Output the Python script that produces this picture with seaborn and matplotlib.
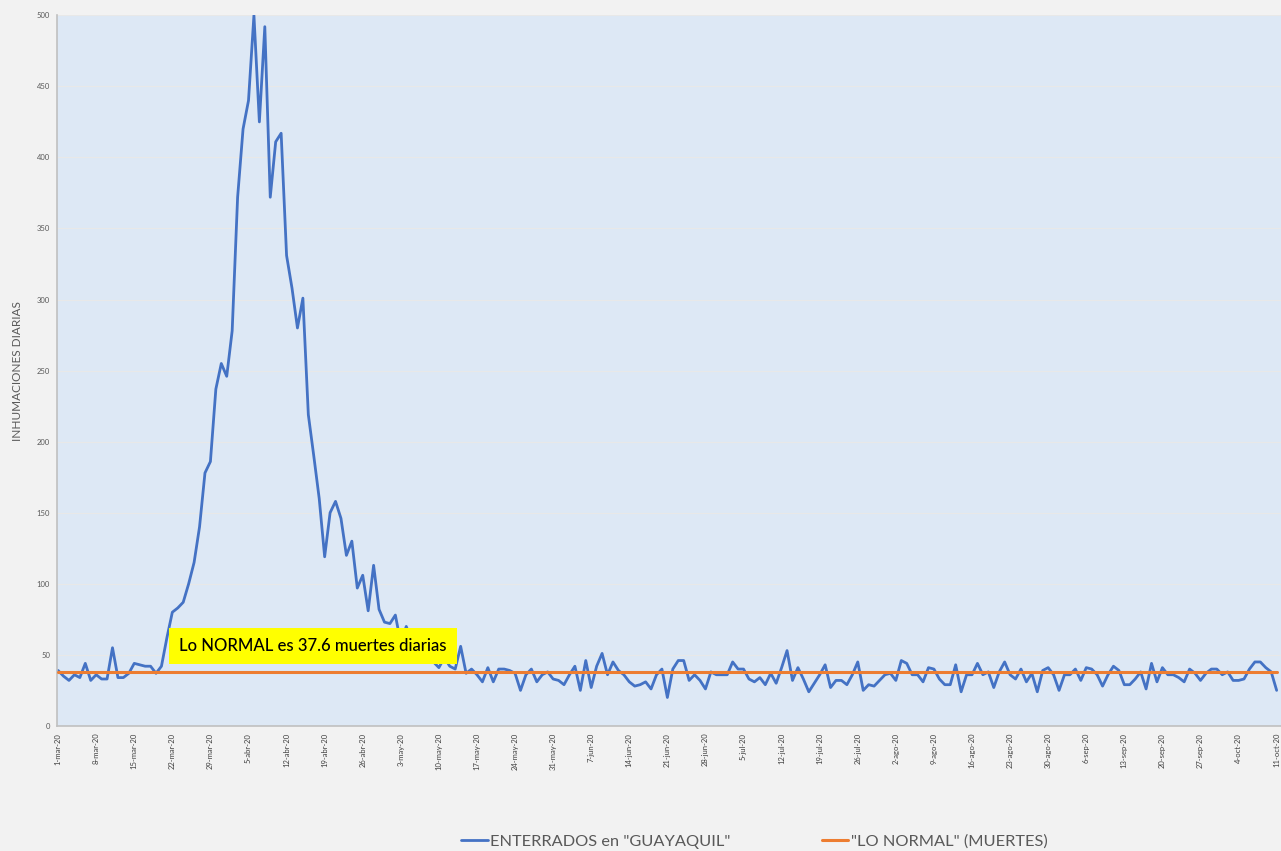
import matplotlib
matplotlib.use("Agg")
import matplotlib.pyplot as plt
import seaborn as sns
import pandas as pd
import numpy as np

# ---- data ----
start_date = "2020-03-01"
enterrados = [
    39, 35, 32, 36, 34, 44, 32, 36, 33, 33,
    55, 34, 34, 37, 44, 43, 42, 42, 37, 42,
    62, 80, 83, 87, 100, 115, 140, 178, 186, 237,
    255, 246, 278, 372, 420, 440, 500, 425, 492, 372,
    411, 417, 331, 308, 280, 301, 219, 190, 160, 119,
    150, 158, 146, 120, 130, 97, 106, 81, 113, 82,
    73, 72, 78, 58, 70, 60, 55, 52, 48, 45,
    41, 48, 42, 40, 56, 37, 40, 36, 31, 41,
    31, 40, 40, 39, 37, 25, 36, 40, 31, 36,
    38, 33, 32, 29, 36, 42, 25, 46, 27, 42,
    51, 36, 45, 39, 36, 31, 28, 29, 31, 26,
    36, 40, 20, 40, 46, 46, 32, 36, 32, 26,
    38, 36, 36, 36, 45, 40, 40, 33, 31, 34,
    29, 37, 30, 41, 53, 32, 41, 33, 24, 30,
    36, 43, 27, 32, 32, 29, 36, 45, 25, 29,
    28, 32, 36, 37, 32, 46, 44, 36, 36, 31,
    41, 40, 33, 29, 29, 43, 24, 36, 36, 44,
    36, 38, 27, 38, 45, 36, 33, 40, 31, 37,
    24, 39, 41, 36, 25, 36, 36, 40, 32, 41,
    40, 36, 28, 36, 42, 39, 29, 29, 33, 38,
    26, 44, 31, 41, 36, 36, 34, 31, 40, 37,
    32, 37, 40, 40, 36, 38, 32, 32, 33, 40,
    45, 45, 41, 38, 25,
]
lo_normal = 37.6
meses = ["ene", "feb", "mar", "abr", "may", "jun", "jul", "ago", "sep", "oct", "nov", "dic"]
serie_azul = 'ENTERRADOS en "GUAYAQUIL"'
serie_naranja = '"LO NORMAL" (MUERTES)'
y_label = "INHUMACIONES DIARIAS"
nota = "Lo NORMAL es 37.6 muertes diarias"
y_ticks = [0, 50, 100, 150, 200, 250, 300, 350, 400, 450, 500]

dates = pd.date_range(start_date, periods=len(enterrados), freq="D")
day = np.arange(len(enterrados))
df = pd.DataFrame({"day": day, "valor": enterrados})
df_norm = pd.DataFrame({"day": day, "valor": [lo_normal] * len(enterrados)})

sns.set_theme(style="white")
plt.rcParams["font.family"] = ["Lato", "DejaVu Sans"]

fig = plt.figure(figsize=(12.81, 8.51), dpi=100, facecolor="#f2f2f2")
ax = fig.add_axes([0.0445, 0.147, 0.9555, 0.835])
ax.set_facecolor("#dde8f5")

sns.lineplot(data=df, x="day", y="valor", ax=ax, color="#4472c4", linewidth=2.0,
             label=serie_azul, legend=False)
sns.lineplot(data=df_norm, x="day", y="valor", ax=ax, color="#ed7d31", linewidth=2.2,
             label=serie_naranja, legend=False)
ax.lines[1].set_zorder(3)
ax.lines[0].set_zorder(2)

ax.set_ylim(0, 500)
ax.set_xlim(-0.2, len(enterrados) - 0.2)
ax.set_yticks(y_ticks)
ax.set_yticklabels([str(v) for v in y_ticks], fontsize=5.5, color="#595959")
ax.yaxis.grid(True, color="#e8e8e8", linewidth=0.8)
ax.set_axisbelow(True)

tick_days = day[::7]
tick_labels = [f"{dates[i].day}-{meses[dates[i].month - 1]}-20" for i in tick_days]
ax.set_xticks(tick_days)
ax.set_xticklabels(tick_labels, rotation=90, fontsize=5.5, color="#404040")
ax.tick_params(axis="both", length=0, pad=5)

ax.set_xlabel("")
ax.set_ylabel(y_label, fontsize=8.5, color="#595959", labelpad=10)

for s in ["top", "right"]:
    ax.spines[s].set_visible(False)
for s in ["left", "bottom"]:
    ax.spines[s].set_color("#c0c0c0")
    ax.spines[s].set_linewidth(1.2)

ax.text(46.9, 56, nota, ha="center", va="center", fontsize=12, color="black",
        fontweight="medium",
        bbox=dict(boxstyle="square,pad=0.6", facecolor="#ffff00", edgecolor="none"),
        zorder=5)

handles, labels = ax.get_legend_handles_labels()
leg = fig.legend(handles, labels, loc="center", bbox_to_anchor=(0.589, 0.011), ncol=2,
                 frameon=False, fontsize=11.8, handlelength=1.6, handletextpad=0.15,
                 columnspacing=5.6)
for t in leg.get_texts():
    t.set_color("#595959")

fig.savefig("out.png", dpi=100, facecolor=fig.get_facecolor())
